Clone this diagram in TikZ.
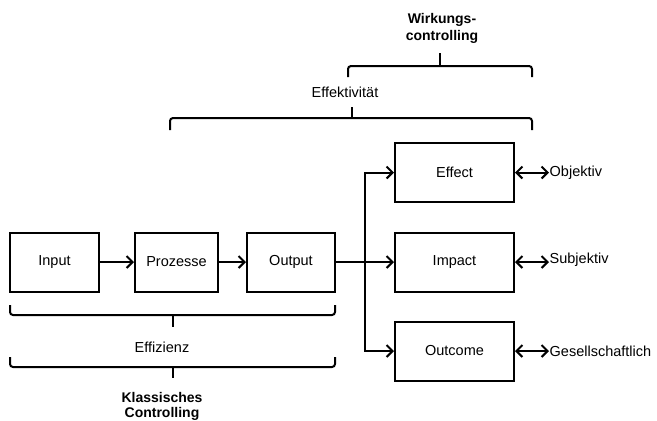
\documentclass[tikz,border=0pt]{standalone}
\usepackage{fontspec}
\setmainfont{Liberation Sans}
\usetikzlibrary{arrows.meta}
\begin{document}
\begin{tikzpicture}[x=1pt,y=-1pt,
  every node/.style={font=\fontsize{14.5}{17}\selectfont, inner sep=1pt},
  box/.style={draw, line width=2pt, minimum height=59pt, inner sep=0pt},
  side/.style={anchor=west, inner sep=0.5pt},
  bold/.style={font=\fontsize{14}{15}\selectfont\bfseries},
  tip/.style={Straight Barb[length=6pt,width=12pt,line width=2.2pt]},
  arr/.style={line width=2pt, -{Straight Barb[length=6pt,width=12pt]}},
  darr/.style={line width=2pt, {Straight Barb[length=6pt,width=12pt]}-{Straight Barb[length=6pt,width=12pt]}},
  brace/.style={line width=2pt, rounded corners=3pt}]
\useasboundingbox (0,0) rectangle (657,421);
\clip (0,0) rectangle (657,421);
% left chain
\node[box, minimum width=89pt] (input) at (54.5,262) {Input};
\node[box, minimum width=83pt] (proz) at (176.5,262) {Prozesse};
\node[box, minimum width=88pt] (output) at (291,262) {Output};
% right boxes
\node[box, minimum width=119pt] (effect) at (454.5,172.5) {Effect};
\node[box, minimum width=119pt] (impact) at (454.5,262) {Impact};
\node[box, minimum width=119pt] (outcome) at (454.5,351) {Outcome};
% side labels
\node[side] (obj) at (549,172.5) {Objektiv};
\node[side] (subj) at (549,260) {Subjektiv};
\node[side] (ges) at (549,351) {Gesellschaftlich};
% connectors
\coordinate (br) at (365,262);
\draw[arr] (input) -- (proz);
\draw[arr] (proz) -- (output);
\draw[arr] (output) -- (impact);
\draw[arr] (br) |- (effect);
\draw[arr] (br) |- (outcome);
\draw[darr] (effect.east) -- (obj.west |- effect.east);
\draw[darr] (impact.east) -- (subj.west |- impact.east);
\draw[darr] (outcome.east) -- (ges.west |- outcome.east);
% lower braces
\draw[brace] (10,305) -- (10,315) -- (335,315) -- (335,305);
\draw[brace] (173,315) -- (173,327);
\node (effiz) at (162,347) {Effizienz};
\draw[brace] (10,357) -- (10,367) -- (335,367) -- (335,357);
\draw[brace] (173,367) -- (173,378);
\node[bold, align=center, inner sep=0pt] (klass) at (162,406) {Klassisches\\Controlling};
% upper braces
\draw[brace] (170,130) -- (170,118) -- (532,118) -- (532,130);
\draw[brace] (352,118) -- (352,107);
\node (effekt) at (345,92) {Effektivität};
\draw[brace] (348,77) -- (348,66) -- (532,66) -- (532,77);
\draw[brace] (440,66) -- (440,53);
\node[bold, align=center] (wirk) at (442,28) {Wirkungs-\\[2pt]controlling};
\end{tikzpicture}
\end{document}
